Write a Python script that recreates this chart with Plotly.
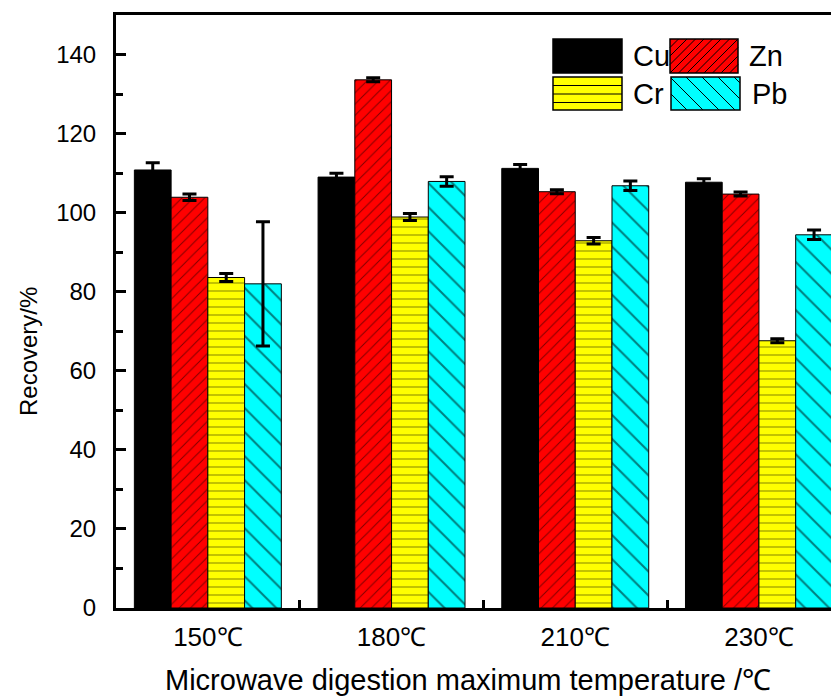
import plotly.graph_objects as go

# ---- data ----
categories = ["150℃", "180℃", "210℃", "230℃"]
cu = [110.8, 109.0, 111.2, 107.7]
cu_err = [1.8, 1.0, 1.0, 0.9]
zn = [103.9, 133.6, 105.3, 104.7]
zn_err = [0.8, 0.5, 0.5, 0.5]
cr = [83.6, 98.9, 92.9, 67.6]
cr_err = [1.0, 0.9, 0.8, 0.5]
pb = [82.0, 107.9, 106.8, 94.4]
pb_err = [15.7, 1.2, 1.2, 1.2]
y_ticks = [0, 20, 40, 60, 80, 100, 120, 140]

FONT = "Arial, Liberation Sans, sans-serif"

# page body adds an 8px margin; work in reference pixel coords and shift
OFF = 8
W, H = 839 - OFF, 698 - OFF
L, T = 116 - OFF, 15 - OFF
PW = 839 - 116
PH = 608 - 15
R = W - L - PW
B = H - T - PH

xpos = list(range(len(categories)))

series = [
    ("Cu", cu, cu_err, "#000000", ""),
    ("Zn", zn, zn_err, "#FF0000", "/"),
    ("Cr", cr, cr_err, "#FFFF00", "-"),
    ("Pb", pb, pb_err, "#00FFFF", "\\"),
]
psize = {"": 8, "/": 8, "-": 8, "\\": 17}

fig = go.Figure()
for name, vals, errs, col, shp in series:
    fig.add_trace(go.Bar(
        x=xpos, y=vals, name=name,
        marker=dict(color=col, line=dict(color="black", width=1),
                    pattern=dict(shape=shp, fgcolor="black", bgcolor=col,
                                 size=psize[shp], solidity=0.12)),
        error_y=dict(type="data", array=errs, visible=True, color="black",
                     thickness=3, width=7),
        showlegend=False,
    ))

# ---- custom legend (large swatches like the original) ----
def px2paper(x, y):
    # x, y in reference-image pixels
    return (x - 116) / PW, (608 - y) / PH

shapes = []
annotations = []

def add_rect(x0, y0, x1, y1, fill=None, lw=1.5):
    a0, b0 = px2paper(x0, y1)
    a1, b1 = px2paper(x1, y0)
    shapes.append(dict(type="rect", xref="paper", yref="paper", x0=a0, y0=b0, x1=a1, y1=b1,
                       fillcolor=fill if fill else "rgba(0,0,0,0)",
                       line=dict(color="black", width=lw if fill is None else 0)))

def add_line(x0, y0, x1, y1):
    a0, b0 = px2paper(x0, y0)
    a1, b1 = px2paper(x1, y1)
    shapes.append(dict(type="line", xref="paper", yref="paper", x0=a0, y0=b0, x1=a1, y1=b1,
                       line=dict(color="black", width=1)))

def swatch(x0, y0, x1, y1, col, shp, step):
    add_rect(x0, y0, x1, y1, fill=col)
    if shp == "/":
        k = x0 + y0 + step
        while k < x1 + y1:
            xa = max(x0, k - y1); xb = min(x1, k - y0)
            add_line(xa, k - xa, xb, k - xb)
            k += step
    elif shp == "\\":
        k = x0 - y1 + step
        while k < x1 - y0:
            xa = max(x0, k + y0); xb = min(x1, k + y1)
            add_line(xa, xa - k, xb, xb - k)
            k += step
    elif shp == "-":
        yy = y0 + step
        while yy < y1 - 1:
            add_line(x0, yy, x1, yy)
            yy += step
    add_rect(x0, y0, x1, y1, fill=None)

legend_items = [
    ("Cu", "#000000", "", 553, 39, 622, 73, 631),
    ("Zn", "#FF0000", "/", 670, 39, 738, 73, 747),
    ("Cr", "#FFFF00", "-", 553, 77, 622, 110, 631),
    ("Pb", "#00FFFF", "\\", 671, 77, 740, 110, 750),
]
for name, col, shp, x0, y0, x1, y1, tx in legend_items:
    swatch(x0, y0, x1, y1, col, shp, 8.5 if shp != "\\" else 16)
    ax, ay = px2paper(tx, (y0 + y1) / 2)
    annotations.append(dict(x=ax, y=ay, xref="paper", yref="paper", text=name,
                            showarrow=False, xanchor="left", yanchor="middle",
                            font=dict(family=FONT, size=29, color="black")))

# axis titles
ax, ay = px2paper(28, 352)
annotations.append(dict(x=ax, y=ay, xref="paper", yref="paper", text="Recovery/%",
                        showarrow=False, textangle=-90, xanchor="center", yanchor="middle",
                        font=dict(family=FONT, size=24, color="black")))
ax, ay = px2paper(468, 680)
annotations.append(dict(x=ax, y=ay, xref="paper", yref="paper",
                        text="Microwave digestion maximum temperature /℃",
                        showarrow=False, xanchor="center", yanchor="middle",
                        font=dict(family=FONT, size=29, color="black")))

spacing = 183.7
fig.update_layout(
    width=W, height=H,
    margin=dict(l=L, r=R, t=T, b=B),
    paper_bgcolor="white", plot_bgcolor="white",
    barmode="group", bargap=0.2, bargroupgap=0,
    shapes=shapes, annotations=annotations,
    showlegend=False,
    xaxis=dict(
        range=[-0.5, -0.5 + PW / spacing],
        tickmode="array", tickvals=xpos, ticktext=categories,
        ticks="", showgrid=False, zeroline=False,
        showline=True, linecolor="black", linewidth=3, mirror=True,
        tickfont=dict(family=FONT, size=26, color="black"),
        ticklabelstandoff=4,
        minor=dict(tickmode="array", tickvals=[0.5, 1.5, 2.5], ticks="inside",
                   ticklen=8, tickwidth=3, tickcolor="black"),
    ),
    yaxis=dict(
        range=[0, 150],
        tickmode="array", tickvals=y_ticks,
        ticks="inside", ticklen=10, tickwidth=3, tickcolor="black",
        showgrid=False, zeroline=False,
        showline=True, linecolor="black", linewidth=3,
        tickfont=dict(family=FONT, size=24, color="black"),
        ticklabelstandoff=12,
        minor=dict(dtick=10, tick0=0, ticks="inside", ticklen=7, tickwidth=3,
                   tickcolor="black"),
    ),
)

fig.write_html("out.html")
